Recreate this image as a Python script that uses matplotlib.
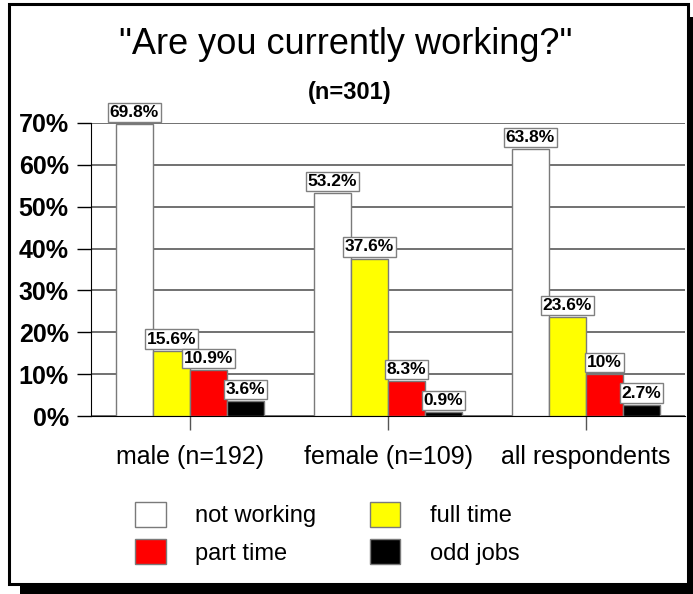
import numpy as np
from matplotlib import pyplot as plt
from matplotlib.patches import Rectangle, Patch

plt.rcParams['font.family'] = ['Liberation Sans', 'DejaVu Sans']

groups = ['male (n=192)', 'female (n=109)', 'all respondents']
series = ['not working', 'full time', 'part time', 'odd jobs']
not_working = [69.8, 53.2, 63.8]
full_time = [15.6, 37.6, 23.6]
part_time = [10.9, 8.3, 10.0]
odd_jobs = [3.6, 0.9, 2.7]
colors = ['white', '#ffff00', '#ff0000', 'black']
yticks = [0, 10, 20, 30, 40, 50, 60, 70]

W, H = 693, 594
fig = plt.figure(figsize=(W / 100, H / 100), dpi=100)
fig.patch.set_facecolor('white')

# frame with drop shadow
fig.add_artist(Rectangle((20 / W, 0), (W - 20) / W, (H - 17) / H,
                         transform=fig.transFigure, fc='black', ec='none', zorder=0))
fig.add_artist(Rectangle((8.5 / W, 1 - 584 / H), (688 - 8.5) / W, (584 - 3.5) / H,
                         transform=fig.transFigure, fc='white', ec='black', lw=2.2, zorder=0))

ax = fig.add_axes([91 / W, 1 - 416 / H, (685 - 91) / W, (416 - 123) / H])
ax.set_facecolor('none')

x = np.arange(len(groups))
w = 0.187
data = [not_working, full_time, part_time, odd_jobs]
for i, (vals, c, name) in enumerate(zip(data, colors, series)):
    pos = x + (i - 1.5) * w
    ax.bar(pos, vals, width=w, color=c, edgecolor='#7a7a7a', lw=1, zorder=3, label=name)
    for px, v in zip(pos, vals):
        ax.annotate(f'{v:g}%', (px, v), xytext=(0, 3), textcoords='offset points',
                    ha='center', va='bottom', fontsize=12.5, fontweight='bold', zorder=6,
                    bbox=dict(boxstyle='square,pad=0.12', fc='white', ec='#808080', lw=1))

ax.set_xlim(-0.5, 2.5)
ax.set_ylim(0, 70)
ax.set_yticks(yticks)
ax.set_yticklabels([f'{t}%' for t in yticks], fontsize=18, fontweight='bold')
ax.set_xticks(x)
ax.set_xticklabels(groups, fontsize=18)
ax.tick_params(axis='y', length=10, width=1, color='black', pad=6)
ax.tick_params(axis='x', length=10, width=1, color='#555555', pad=11)
ax.yaxis.grid(True, color='#4a4a4a', lw=1.1)
ax.set_axisbelow(True)
for s in ['top', 'right']:
    ax.spines[s].set_visible(False)
ax.spines['left'].set_color('black')
ax.spines['bottom'].set_color('black')

fig.text(346 / W, 1 - 45 / H, '"Are you currently working?"', ha='center', va='center', fontsize=26)
fig.text(350 / W, 1 - 93 / H, '(n=301)', ha='center', va='center', fontsize=17, fontweight='bold')

handles = [Patch(fc=c, ec='#7a7a7a') for c in colors]
fig.legend([handles[0], handles[2], handles[1], handles[3]],
           [series[0], series[2], series[1], series[3]],
           loc='upper left', bbox_to_anchor=(123 / W, 1 - 490 / H), ncol=2,
           frameon=False, fontsize=17, borderpad=0, handlelength=1.3, handleheight=1.27,
           handletextpad=1.27, columnspacing=2.25, labelspacing=0.5)

plt.savefig('out.png', dpi=100)
